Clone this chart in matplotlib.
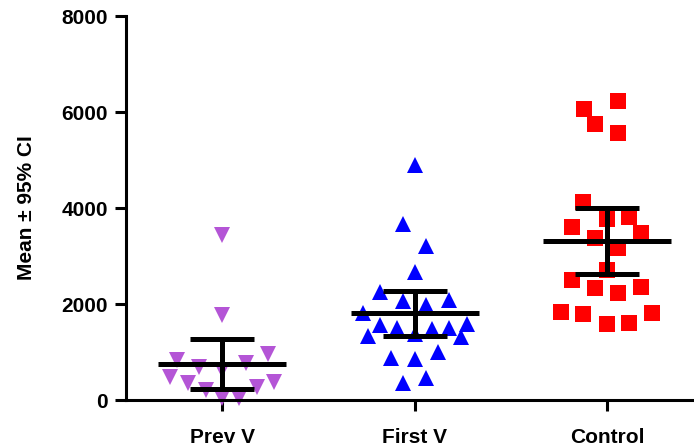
import numpy as np
import matplotlib.pyplot as plt

plt.rcParams['font.family'] = ['Liberation Sans', 'DejaVu Sans']

groups = ["Prev V", "First V", "Control"]

# measured values per subject
prev_v = [3437, 1771, 833, 688, 771, 958, 479, 354, 625, 208, 271, 375, 42, 42]
first_v = [4896, 3667, 3208, 2667, 2250, 2063, 1979, 2083, 1813, 1563, 1500,
           1479, 1500, 1583, 1333, 1375, 1313, 875, 854, 1000, 354, 458]
control = [6229, 6063, 5750, 5563, 4125, 3771, 3813, 3604, 3375, 3479, 3167,
           2708, 2500, 2333, 2229, 2354, 1833, 1792, 1583, 1604, 1813]

# horizontal scatter offsets (pixels) so points don't overlap
prev_dx = [0, 0, -45, -23, 24, 46, -52, -34, 0, -16, 35, 52, 0, 17]
first_dx = [0, -12, 11, 0, -35, -12, 11, 34, -52, -35, -18, 17, 34, 52, -47,
            0, 46, -24, 0, 23, -12, 11]
control_dx = [11, -23, -12, 11, -24, 0, 22, -35, -12, 34, 11, 0, -35, -12, 11,
              34, -46, -24, 0, 22, 45]

means = [750, 1813, 3313]
ci_low = [229, 1333, 2625]
ci_high = [1271, 2271, 4000]

fig = plt.figure(figsize=(6.94, 4.46), dpi=100)
ax = fig.add_axes([126 / 694, 46 / 446, 568 / 694, 384 / 446])

px = 192.5  # pixels per category step
styles = [("v", "#B455D6"), ("^", "#0000FF"), ("s", "#FF0000")]
for i, (vals, dx) in enumerate([(prev_v, prev_dx), (first_v, first_dx),
                                (control, control_dx)]):
    m, c = styles[i]
    xs = i + np.array(dx) / px
    ax.plot(xs, vals, linestyle="none", marker=m, color=c, markersize=11.5,
            markeredgewidth=0, clip_on=False, zorder=2)

# mean line and 95% CI bars
for i in range(3):
    ax.hlines(means[i], i - 0.333, i + 0.333, color="black", lw=3.6, zorder=3)
    ax.vlines(i, ci_low[i], ci_high[i], color="black", lw=3.6, zorder=3)
    ax.hlines([ci_low[i], ci_high[i]], i - 0.166, i + 0.166, color="black",
              lw=3.6, zorder=3)

ax.set_xlim(-0.5, 2.45)
ax.set_ylim(0, 8000)
ax.set_yticks([0, 2000, 4000, 6000, 8000])
ax.set_xticks(range(3))
ax.set_xticklabels(groups)

for s in ["top", "right"]:
    ax.spines[s].set_visible(False)
for s in ["left", "bottom"]:
    ax.spines[s].set_linewidth(2.2)

ax.tick_params(axis="both", width=2.2, length=8, labelsize=15)
ax.tick_params(axis="y", pad=5)
ax.tick_params(axis="x", pad=12)
for lbl in ax.get_xticklabels() + ax.get_yticklabels():
    lbl.set_fontweight("bold")

ax.set_ylabel("Mean ± 95% CI", fontsize=15, fontweight="bold", labelpad=18)

fig.savefig("out.png", dpi=100)
